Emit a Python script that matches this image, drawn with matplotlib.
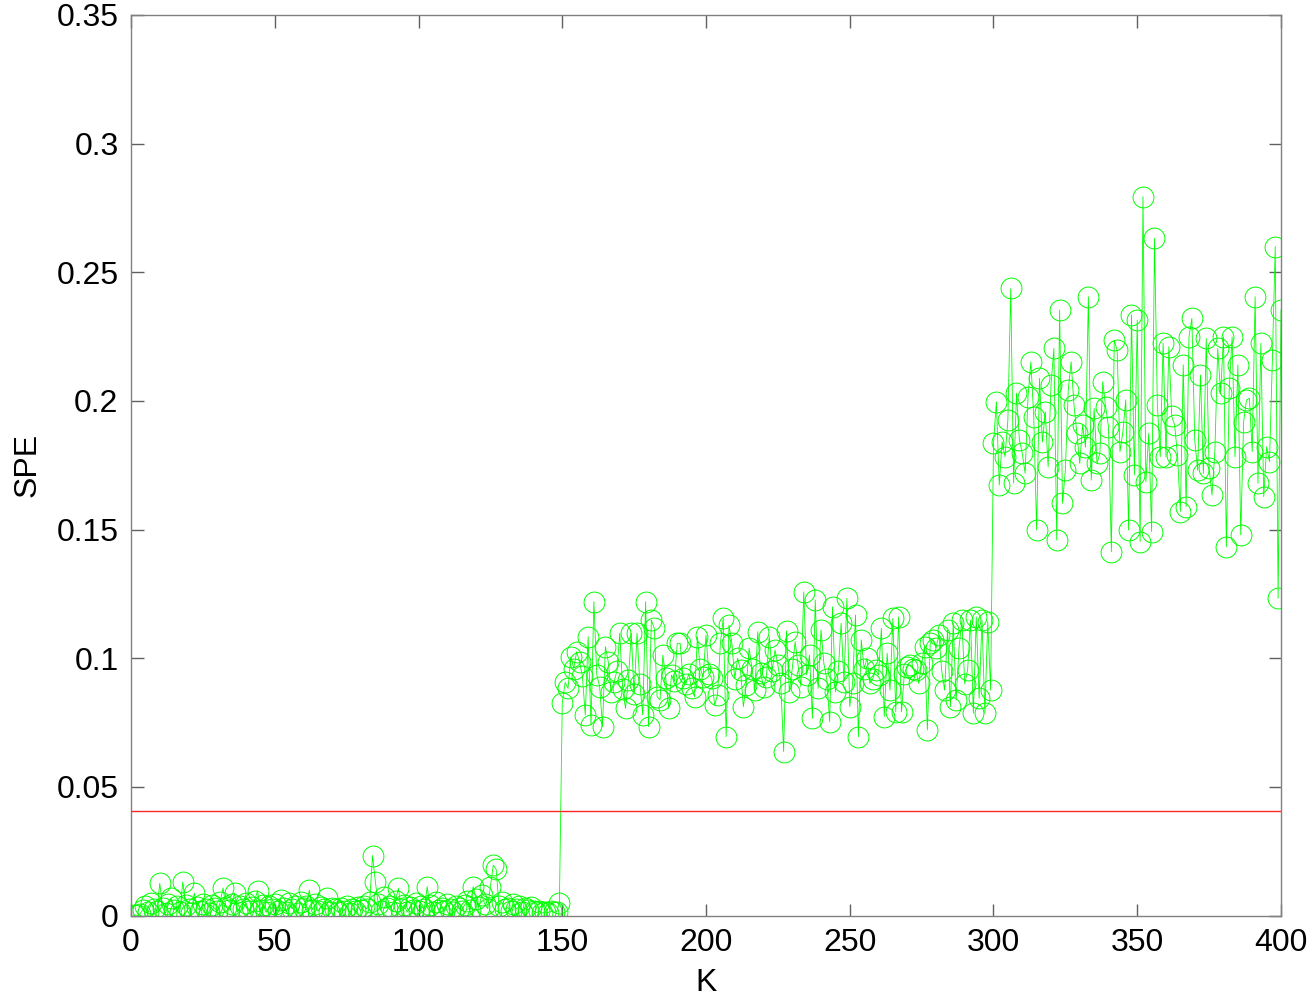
import numpy as np
import matplotlib
matplotlib.use("Agg")
import matplotlib.pyplot as plt

plt.rcParams['font.family'] = ['Liberation Sans', 'DejaVu Sans']

# SPE values, normal segment (k = 1..149)
spe_normal = [
    0.0002, 0.0001, 0.0004, 0.0021, 0.0035, 0.0012, 0.0048, 0.0026, 0.0019, 0.0125,
    0.0031, 0.0008, 0.0043, 0.0068, 0.0022, 0.0037, 0.0015, 0.0130, 0.0041, 0.0027,
    0.0009, 0.0087, 0.0033, 0.0018, 0.0046, 0.0024, 0.0011, 0.0039, 0.0029, 0.0016,
    0.0052, 0.0107, 0.0034, 0.0021, 0.0044, 0.0087, 0.0013, 0.0036, 0.0025, 0.0049,
    0.0017, 0.0032, 0.0058, 0.0096, 0.0023, 0.0041, 0.0012, 0.0035, 0.0027, 0.0045,
    0.0019, 0.0062, 0.0031, 0.0014, 0.0047, 0.0026, 0.0038, 0.0011, 0.0053, 0.0029,
    0.0036, 0.0099, 0.0022, 0.0043, 0.0017, 0.0034, 0.0025, 0.0067, 0.0015, 0.0031,
    0.0024, 0.0012, 0.0029, 0.0018, 0.0035, 0.0009, 0.0027, 0.0016, 0.0032, 0.0021,
    0.0038, 0.0026, 0.0051, 0.0233, 0.0130, 0.0044, 0.0019, 0.0072, 0.0028, 0.0036,
    0.0015, 0.0058, 0.0106, 0.0024, 0.0041, 0.0013, 0.0033, 0.0022, 0.0047, 0.0018,
    0.0035, 0.0026, 0.0112, 0.0039, 0.0014, 0.0052, 0.0021, 0.0031, 0.0017, 0.0044,
    0.0025, 0.0012, 0.0036, 0.0028, 0.0019, 0.0041, 0.0055, 0.0023, 0.0112, 0.0063,
    0.0034, 0.0079, 0.0046, 0.0027, 0.0112, 0.0196, 0.0180, 0.0038, 0.0052, 0.0024,
    0.0031, 0.0018, 0.0043, 0.0026, 0.0035, 0.0014, 0.0029, 0.0021, 0.0033, 0.0017,
    0.0012, 0.0016, 0.0009, 0.0014, 0.0011, 0.0017, 0.0013, 0.0015, 0.0047,
]

# SPE values, first fault segment (k = 150..299)
spe_fault1 = [
    0.0825, 0.0906, 0.0883, 0.1006, 0.0960, 0.1025, 0.0986, 0.0930, 0.0779, 0.1084,
    0.0740, 0.1220, 0.0935, 0.0890, 0.0734, 0.1045, 0.0986, 0.0870, 0.0909, 0.0950,
    0.1097, 0.0880, 0.0805, 0.0915, 0.1097, 0.0860, 0.1097, 0.0900, 0.0779, 0.1220,
    0.0734, 0.1148, 0.1116, 0.0850, 0.0838, 0.1012, 0.0922, 0.0805, 0.0935, 0.0910,
    0.1058, 0.1058, 0.0922, 0.0900, 0.0940, 0.0883, 0.0850, 0.1084, 0.0960, 0.0928,
    0.1090, 0.0940, 0.0922, 0.0818, 0.0857, 0.1058, 0.1155, 0.0695, 0.1129, 0.1058,
    0.0920, 0.1000, 0.0954, 0.0812, 0.0896, 0.1039, 0.0960, 0.0876, 0.1103, 0.0941,
    0.0890, 0.0928, 0.1084, 0.0950, 0.1032, 0.0974, 0.0902, 0.0637, 0.1106, 0.0870,
    0.0960, 0.1064, 0.0974, 0.0890, 0.1258, 0.0935, 0.1012, 0.0766, 0.1226, 0.0883,
    0.1110, 0.0980, 0.0920, 0.0753, 0.1200, 0.0870, 0.0950, 0.1136, 0.0909, 0.1233,
    0.0812, 0.0902, 0.1168, 0.0695, 0.1071, 0.0960, 0.1000, 0.0902, 0.0920, 0.0954,
    0.0935, 0.1116, 0.0773, 0.1019, 0.0876, 0.1155, 0.0792, 0.1161, 0.0792, 0.0940,
    0.0967, 0.0974, 0.0960, 0.0954, 0.0902, 0.0980, 0.1045, 0.0721, 0.1058, 0.1071,
    0.1040, 0.1090, 0.0950, 0.0876, 0.1110, 0.0812, 0.1136, 0.0838, 0.1039, 0.1148,
    0.0900, 0.0954, 0.1148, 0.0786, 0.1161, 0.0844, 0.1148, 0.0786, 0.1142, 0.0876,
]

# SPE values, second fault segment (k = 300..400)
spe_fault2 = [
    0.1835, 0.1997, 0.1673, 0.1841, 0.1783, 0.1926, 0.2437, 0.1680, 0.2030, 0.1850,
    0.1796, 0.1719, 0.2016, 0.2152, 0.1939, 0.1498, 0.2088, 0.1840, 0.1958, 0.1744,
    0.2062, 0.2204, 0.1459, 0.2353, 0.1602, 0.1731, 0.2042, 0.2152, 0.1984, 0.1874,
    0.1757, 0.1906, 0.1820, 0.2405, 0.1692, 0.1971, 0.1757, 0.1796, 0.2075, 0.1977,
    0.1900, 0.1414, 0.2235, 0.2198, 0.1803, 0.1880, 0.2004, 0.1498, 0.2335, 0.1712,
    0.2314, 0.1453, 0.2794, 0.1686, 0.1874, 0.1492, 0.2632, 0.1984, 0.1783, 0.2224,
    0.1783, 0.2211, 0.1940, 0.1906, 0.1790, 0.1570, 0.2140, 0.1589, 0.2249, 0.2321,
    0.1848, 0.1731, 0.2101, 0.1719, 0.2243, 0.1738, 0.1634, 0.1803, 0.2204, 0.2030,
    0.2249, 0.1433, 0.2049, 0.2249, 0.1783, 0.2140, 0.1479, 0.1919, 0.2004, 0.2010,
    0.1803, 0.2405, 0.1680, 0.2224, 0.1628, 0.1822, 0.1764, 0.2159, 0.2600, 0.1233,
    0.2353,
]

spe_limit = 0.0407
x_ticks = [0, 50, 100, 150, 200, 250, 300, 350, 400]
y_ticks = [0, 0.05, 0.1, 0.15, 0.2, 0.25, 0.3, 0.35]
y_tick_labels = ["0", "0.05", "0.1", "0.15", "0.2", "0.25", "0.3", "0.35"]

spe = np.array(spe_normal + spe_fault1 + spe_fault2)
k = np.arange(1, len(spe) + 1)

fig = plt.figure(figsize=(13.09, 10.0), dpi=100)
ax = fig.add_axes([0.1001, 0.0845, 0.8785, 0.9005])

ax.plot(k, spe, color='#00ff00', lw=0.6, marker='o', markersize=15,
        markerfacecolor='none', markeredgecolor='#00ff00', markeredgewidth=0.7,
        zorder=2)
ax.axhline(spe_limit, color=(1.0, 0.15, 0.15), lw=1.0, zorder=3)

ax.set_xlim(0, 400)
ax.set_ylim(0, 0.35)
ax.set_xticks(x_ticks)
ax.set_xticklabels([str(t) for t in x_ticks])
ax.set_yticks(y_ticks)
ax.set_yticklabels(y_tick_labels)

for s in ax.spines.values():
    s.set_color('#808080')
    s.set_linewidth(1.0)
ax.tick_params(direction='in', length=9, width=1.0, color='#606060',
               labelsize=23, top=True, right=True, pad=9)
ax.set_xlabel('K', fontsize=23, labelpad=7)
ax.set_ylabel('SPE', fontsize=23, labelpad=10)

fig.savefig('out.png', dpi=100)
